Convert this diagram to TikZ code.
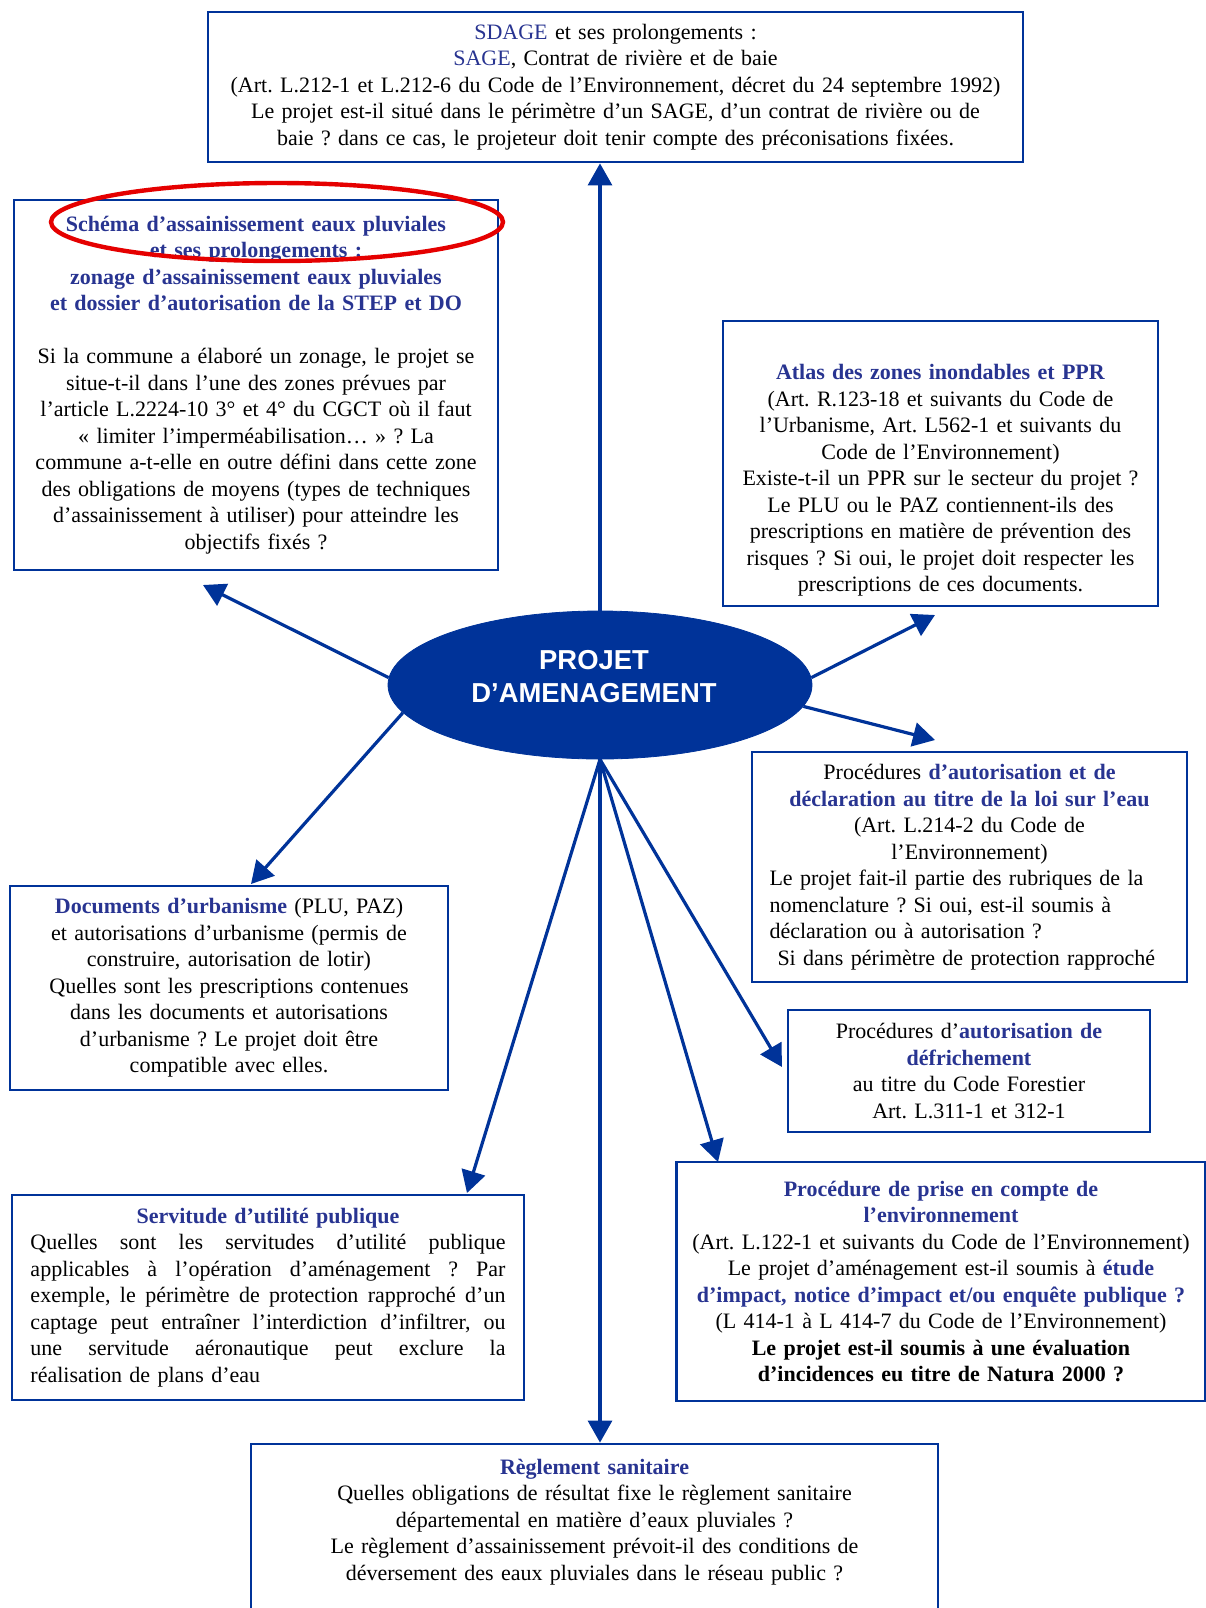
\documentclass[tikz,border=0pt]{standalone}
\usepackage{fontspec}
\setmainfont{Liberation Serif}
\newfontfamily\hubfont{Liberation Sans}
\usetikzlibrary{arrows.meta,positioning,shapes.geometric}
\definecolor{frameblue}{RGB}{0,51,153}
\definecolor{titleblue}{RGB}{40,52,145}
\frenchspacing
\newcommand{\ttl}[1]{\textcolor{titleblue}{\textbf{#1}}}
\newcommand{\lft}[1]{\makebox[\linewidth][l]{#1}}
\newcommand{\jst}[1]{\makebox[\linewidth][s]{\spaceskip=0.25em plus 3em\relax #1}}
\tikzset{
  box/.style  = {rectangle, draw=frameblue, line width=1.4pt, align=center,
                 font=\fontsize{11}{13.25}\selectfont, inner sep=0pt},
  hub/.style  = {ellipse, fill=frameblue, draw=frameblue, text=white, align=center,
                 font=\hubfont\bfseries\fontsize{13.7}{16.5}\selectfont,
                 minimum width=212pt, minimum height=74pt, inner sep=0pt},
  ring/.style = {ellipse, draw=red!90!black, line width=2.2pt, inner sep=0pt},
  flow/.style = {-{Triangle[length=11pt,width=12pt]}, line width=1.6pt, draw=frameblue},
}

\begin{document}
\begin{tikzpicture}[x=0.5pt, y=-0.5pt]
  \useasboundingbox[fill=white] (0,0) rectangle (1206,1608);

  % centre
  \node[hub] (proj) at (600,685)
    {PROJET\hspace*{6pt}\\D’AMENAGEMENT\hspace*{6pt}\rule[-9pt]{0pt}{0pt}};

  % boxes
  \node[box, minimum width=407.5pt, minimum height=75pt, text width=398pt] (sdage) at (615.5,87)
    {\textcolor{titleblue}{SDAGE} et ses prolongements :\\
     \textcolor{titleblue}{SAGE}, Contrat de rivière et de baie\\
     (Art. L.212-1 et L.212-6 du Code de l’Environnement, décret du 24 septembre 1992)\\
     Le projet est-il situé dans le périmètre d’un SAGE, d’un contrat de rivière ou de\\
     baie ? dans ce cas, le projeteur doit tenir compte des préconisations fixées.};
  \node[box, minimum width=242pt, minimum height=185pt, text width=234pt] (schema) at (256,385)
    {\ttl{Schéma d’assainissement eaux pluviales}\\
     \ttl{et ses prolongements :}\\
     \ttl{zonage d’assainissement eaux pluviales}\\
     \ttl{et dossier d’autorisation de la STEP et DO}\\[13.25pt]
     Si la commune a élaboré un zonage, le projet se\\
     situe-t-il dans l’une des zones prévues par\\
     l’article L.2224-10 3° et 4° du CGCT où il faut\\
     « limiter l’imperméabilisation… » ? La\\
     commune a-t-elle en outre défini dans cette zone\\
     des obligations de moyens (types de techniques\\
     d’assainissement à utiliser) pour atteindre les\\
     objectifs fixés ?};
  \node[box, minimum width=217.5pt, minimum height=142.5pt, text width=210pt] (atlas) at (940.5,463.5)
    {\rule{0pt}{24.5pt}\ttl{Atlas des zones inondables et PPR}\\
     (Art. R.123-18 et suivants du Code de\\
     l’Urbanisme, Art. L562-1 et suivants du\\
     Code de l’Environnement)\\
     Existe-t-il un PPR sur le secteur du projet ?\\
     Le PLU ou le PAZ contiennent-ils des\\
     prescriptions en matière de prévention des\\
     risques ? Si oui, le projet doit respecter les\\
     prescriptions de ces documents.};
  \node[box, minimum width=217.5pt, minimum height=115pt, text width=200pt] (autor) at (969.5,867)
    {Procédures \ttl{d’autorisation et de}\\
     \ttl{déclaration au titre de la loi sur l’eau}\\
     (Art. L.214-2 du Code de\\
     l’Environnement)\\
     \lft{Le projet fait-il partie des rubriques de la}\\
     \lft{nomenclature ? Si oui, est-il soumis à}\\
     \lft{déclaration ou à autorisation ?}\\
     \lft{\hspace{4pt}Si dans périmètre de protection rapproché}};
  \node[box, minimum width=219pt, minimum height=102pt, text width=210pt] (docs) at (229,988)
    {\ttl{Documents d’urbanisme} (PLU, PAZ)\\
     et autorisations d’urbanisme (permis de\\
     construire, autorisation de lotir)\\
     Quelles sont les prescriptions contenues\\
     dans les documents et autorisations\\
     d’urbanisme ? Le projet doit être\\
     compatible avec elles.};
  \node[box, minimum width=181pt, minimum height=61pt, text width=172pt] (defrich) at (969,1071)
    {Procédures d’\ttl{autorisation de}\\
     \ttl{défrichement}\\
     au titre du Code Forestier\\
     Art. L.311-1 et 312-1};
  \node[box, minimum width=264.5pt, minimum height=119.5pt, text width=262pt] (envir) at (941,1281.5)
    {\ttl{Procédure de prise en compte de}\\
     \ttl{l’environnement}\\
     (Art. L.122-1 et suivants du Code de l’Environnement)\\
     Le projet d’aménagement est-il soumis à \ttl{étude}\\
     \ttl{d’impact, notice d’impact et/ou enquête publique ?}\\
     (L 414-1 à L 414-7 du Code de l’Environnement)\\
     \textbf{Le projet est-il soumis à une évaluation}\\
     \textbf{d’incidences eu titre de Natura 2000 ?}};
  \node[box, minimum width=256pt, minimum height=102.5pt, text width=237.5pt] (servit) at (268,1297.5)
    {\ttl{Servitude d’utilité publique}\\
     \jst{Quelles sont les servitudes d’utilité publique}\\
     \jst{applicables à l’opération d’aménagement ? Par}\\
     \jst{exemple, le périmètre de protection rapproché d’un}\\
     \jst{captage peut entraîner l’interdiction d’infiltrer, ou}\\
     \jst{une servitude aéronautique peut exclure la}\\
     \lft{réalisation de plans d’eau}};
  \node[box, minimum width=343.5pt, minimum height=98pt, text width=310pt] (regl) at (594.5,1542)
    {\ttl{Règlement sanitaire}\\
     Quelles obligations de résultat fixe le règlement sanitaire\\
     départemental en matière d’eaux pluviales ?\\
     Le règlement d’assainissement prévoit-il des conditions de\\
     déversement des eaux pluviales dans le réseau public ?\rule[-22.5pt]{0pt}{0pt}};

  % highlight
  \node[ring, minimum width=226pt, minimum height=39pt] (hilite) at (277,222) {};

  % arrow tips
  \coordinate (tipschema)  at (203,585);
  \coordinate (tipdocs)    at (251,884);
  \coordinate (tipatlas)   at (935,615);
  \coordinate (tipautor)   at (935,740);
  \coordinate (tipdefrich) at (782,1067);
  \coordinate (tipenvir)   at (718,1162);
  \coordinate (tipservit)  at (467,1193);

  % connectors
  \draw[flow] (proj.north) -- (proj.north |- sdage.south);
  \draw[flow] (proj.178) -- (tipschema);
  \draw[flow] (proj.188) -- (tipdocs);
  \draw[flow] (proj.2) -- (tipatlas);
  \draw[flow] (proj.-6) -- (tipautor);
  \draw[flow] (proj.south) -- (tipservit);
  \draw[flow] (proj.south) -- (tipdefrich);
  \draw[flow] (proj.south) -- (tipenvir);
  \draw[flow] (proj.south) -- (proj.south |- regl.north);
\end{tikzpicture}
\end{document}
